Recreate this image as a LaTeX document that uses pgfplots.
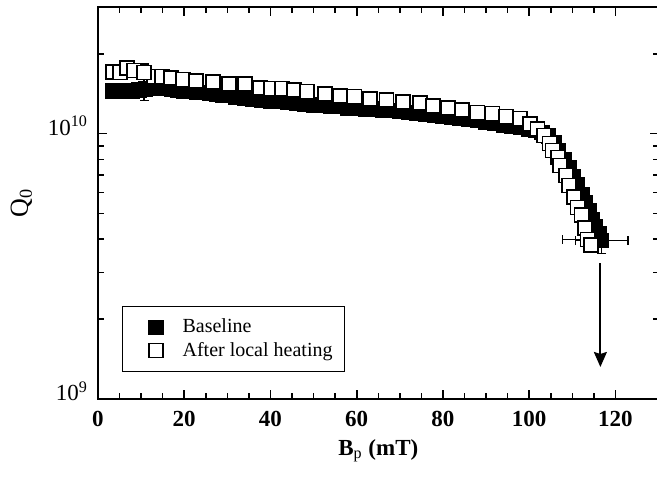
\documentclass[border=0pt]{standalone}
\usepackage{fontspec}
\setmainfont{Liberation Serif}
\usepackage{pgfplots}
\pgfplotsset{compat=1.18}
\usetikzlibrary{arrows.meta}

\begin{document}
\begin{tikzpicture}
\begin{axis}[
    scale only axis,
    width=280.3pt,
    height=196pt,
    ymode=log,
    xmin=0, xmax=130,
    ymin=1e9, ymax=3e10,
    xtick={0,20,...,120},
    minor x tick num=3,
    ytick={1e9,1e10},
    yticklabels={\mbox{10\textsuperscript{9}},\mbox{10\textsuperscript{10}}},
    minor ytick={2e9,3e9,4e9,5e9,6e9,7e9,8e9,9e9,2e10,3e10},
    tick align=inside,
    major tick length=4.5pt,
    minor tick length=2.8pt,
    axis line style={line width=0.9pt},
    every tick/.style={line width=0.8pt, black},
    /pgf/number format/assume math mode=true,
    xticklabel style={font=\fontsize{11.5}{13}\selectfont\bfseries, yshift=-2.8pt},
    yticklabel style={font=\fontsize{11.5}{13}\selectfont, anchor=base east, yshift=-1pt, xshift=-1.5pt},
    xlabel={B\textsubscript{\mdseries p} (mT)},
    xlabel style={font=\fontsize{11.5}{13}\selectfont\bfseries, at={(axis description cs:0.5,-0.143)}, anchor=base},
    ylabel={Q\textsubscript{0}},
    ylabel style={font=\fontsize{13}{15}\selectfont, at={(axis description cs:-0.125,0.5)}, anchor=base},
    legend style={at={(rel axis cs:0.043,0.069)}, anchor=south west, draw=black, line width=0.5pt,
        font=\fontsize{10}{12}\selectfont, inner xsep=4pt, inner ysep=4.2pt, row sep=-1pt},
    legend cell align=left,
    legend image code/.code={\path[draw=none, fill=none] (0pt,-1pt) rectangle (24pt,1pt); \draw[#1] plot coordinates {(12.7pt,0pt)};},
]
% Baseline
\addplot[only marks, mark=square*, mark size=3.6pt, mark options={fill=black, draw=black, line width=0.6pt}]
coordinates {
(3.5,1.45e10) (5,1.45e10) (6.5,1.45e10) (8,1.45e10) (9.5,1.46e10) (11,1.47e10)
(12.5,1.48e10) (14,1.48e10) (15.5,1.48e10) (17,1.47e10) (18.5,1.46e10) (20,1.45e10)
(21.5,1.44e10) (23,1.43e10) (26,1.42e10) (27.5,1.41e10) (29,1.40e10) (30.5,1.39e10)
(32,1.37e10) (34,1.36e10) (36,1.35e10) (38,1.34e10) (40,1.33e10) (42,1.32e10)
(44,1.31e10) (46,1.30e10) (48,1.29e10) (50,1.28e10) (52,1.28e10) (54,1.27e10)
(56,1.27e10) (58,1.25e10) (60,1.25e10) (62,1.24e10) (64,1.24e10) (66,1.23e10)
(68,1.22e10) (70,1.21e10) (72,1.20e10) (74,1.19e10) (76,1.18e10) (78,1.17e10)
(80,1.16e10) (82,1.15e10) (84,1.14e10) (86,1.13e10) (88,1.12e10) (90,1.10e10)
(92,1.09e10) (94,1.08e10) (96,1.07e10) (98,1.06e10) (100,1.04e10) (101.5,1.03e10)
(103,1.01e10) (104.5,9.8e9) (105.8,9.2e9) (106.8,8.6e9) (108,8.0e9) (109.3,7.45e9)
(110.2,6.9e9) (111.2,6.4e9) (112.2,5.9e9) (113,5.5e9) (113.8,5.1e9) (114.6,4.75e9)
(115.4,4.45e9) (116.2,4.2e9)
};
\addlegendentry{Baseline}
\addplot[forget plot, only marks, mark=square*, mark size=3.6pt, mark options={fill=black, draw=black, line width=0.6pt},
    error bars/.cd, x dir=both, x explicit, y dir=minus, y explicit,
    error bar style={line width=0.7pt, black},
    error mark options={rotate=90, mark size=2.2pt, line width=0.7pt, black}]
coordinates {
(116.8,3.95e9) += (6.1,0) -= (6.1,0.42e9)
};
% After local heating
\addplot[only marks, mark=square*, mark size=3.5pt, mark options={fill=white, draw=black, line width=0.9pt}]
coordinates {
(3.5,1.71e10) (5.1,1.70e10) (6.7,1.77e10) (8.3,1.73e10) (13.0,1.64e10) (14.8,1.64e10)
(16.9,1.62e10) (19.7,1.60e10) (22.7,1.58e10) (26.6,1.57e10) (30.3,1.54e10) (34.1,1.54e10)
(37.5,1.49e10) (40.1,1.48e10) (42.6,1.48e10) (45.4,1.46e10) (48.4,1.44e10) (52.6,1.41e10)
(56.1,1.39e10) (59.5,1.38e10) (63.0,1.35e10) (66.9,1.34e10) (70.7,1.32e10) (74.6,1.30e10)
(77.6,1.27e10) (81.1,1.25e10) (84.5,1.23e10) (88.0,1.20e10) (91.5,1.19e10) (94.7,1.16e10)
(97.8,1.14e10) (100.1,1.09e10) (101.9,1.04e10) (103.5,9.83e9) (104.7,9.17e9) (105.4,8.63e9)
(106.6,8.12e9) (107.2,7.58e9) (108.6,6.95e9) (109.3,6.38e9) (110.3,5.75e9) (111.2,5.27e9)
(112.1,4.92e9) (113.0,4.40e9)
};
\addlegendentry{After local heating}
\addplot[forget plot, only marks, mark=square*, mark size=3.5pt, mark options={fill=white, draw=black, line width=0.9pt},
    error bars/.cd, y dir=both, y explicit,
    error bar style={line width=0.7pt, black},
    error mark options={rotate=90, mark size=2.2pt, line width=0.7pt, black}]
coordinates {
(10.7,1.70e10) += (0,0.13e10) -= (0,0.37e10)
};
\addplot[forget plot, only marks, mark=square*, mark size=3.5pt, mark options={fill=white, draw=black, line width=0.9pt},
    error bars/.cd, x dir=minus, x explicit,
    error bar style={line width=0.7pt, black},
    error mark options={rotate=90, mark size=2.2pt, line width=0.7pt, black}]
coordinates {
(113.5,3.99e9) -= (5.8,0)
};
\addplot[forget plot, only marks, mark=square*, mark size=3.5pt, mark options={fill=white, draw=black, line width=0.9pt}]
coordinates {(114.3,3.80e9)};
% arrow
\addplot[forget plot, black, line width=0.9pt, -{Stealth[length=7.5pt, width=6.5pt, inset=1pt]}]
coordinates {(116.5,3.24e9) (116.5,1.32e9)};
\end{axis}
\pgfresetboundingbox
\path ([xshift=-49pt, yshift=3.5pt]current axis.north west) rectangle ([xshift=-0.8pt, yshift=-40.5pt]current axis.south east);
\end{tikzpicture}
\end{document}
